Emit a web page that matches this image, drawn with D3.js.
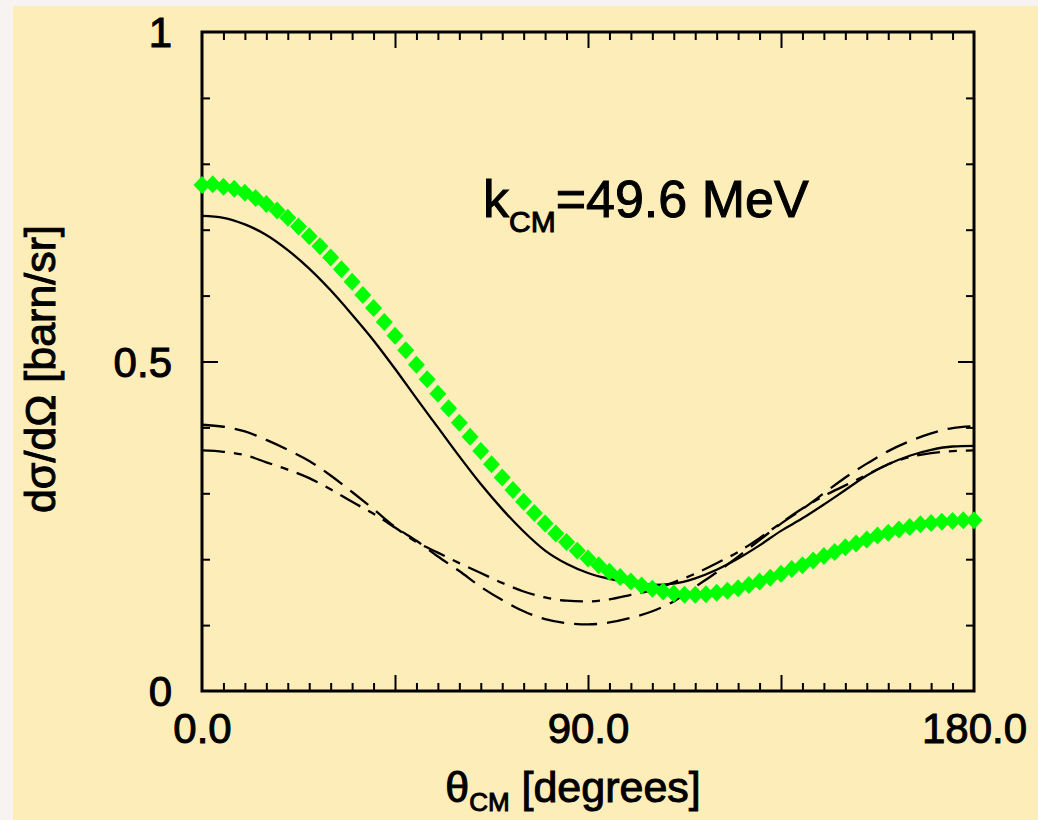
<!DOCTYPE html>
<html>
<head>
<meta charset="utf-8">
<script src="https://cdn.jsdelivr.net/npm/d3@7"></script>
<style>
    body { margin: 0; background: #f7f3f1; }
    svg { display: block; font-family: "Liberation Sans", Arial, sans-serif; }
    svg text { stroke: #000; stroke-width: 1px; }
</style>
</head>
<body>
<svg id="chart" width="1038" height="820"></svg>
<script>
// green diamonds (data)
const thetaGreen = [0, 2.5, 5, 7.5, 10, 12.5, 15, 17.5, 20, 22.5, 25, 27.5, 30, 32.5, 35, 37.5, 40, 42.5, 45, 47.5,
    50, 52.5, 55, 57.5, 60, 62.5, 65, 67.5, 70, 72.5, 75, 77.5, 80, 82.5, 85, 87.5, 90, 92.5, 95, 97.5,
    100, 102.5, 105, 107.5, 110, 112.5, 115, 117.5, 120, 122.5, 125, 127.5, 130, 132.5, 135, 137.5, 140, 142.5,
    145, 147.5, 150, 152.5, 155, 157.5, 160, 162.5, 165, 167.5, 170, 172.5, 175, 177.5, 180];
const sigmaGreen = [0.768, 0.769, 0.765, 0.762, 0.756, 0.748, 0.739, 0.729, 0.718, 0.705, 0.690, 0.675, 0.658, 0.640,
    0.621, 0.601, 0.581, 0.560, 0.539, 0.517, 0.495, 0.473, 0.451, 0.429, 0.407, 0.386, 0.364, 0.344, 0.324, 0.305,
    0.287, 0.270, 0.254, 0.239, 0.226, 0.213, 0.201, 0.191, 0.181, 0.173, 0.166, 0.160, 0.155, 0.151, 0.148, 0.146,
    0.146, 0.147, 0.149, 0.152, 0.156, 0.161, 0.166, 0.172, 0.178, 0.185, 0.191, 0.198, 0.205, 0.211, 0.218, 0.224,
    0.230, 0.236, 0.240, 0.245, 0.249, 0.253, 0.255, 0.257, 0.258, 0.259, 0.259];

// calculations
const thetaLine = [0, 5, 10, 15, 20, 25, 30, 35, 40, 45, 50, 55, 60, 65, 70, 75, 80, 85, 90,
    95, 100, 105, 110, 115, 120, 125, 130, 135, 140, 145, 150, 155, 160, 165, 170, 175, 180];
const sigmaSolid = [0.721, 0.718, 0.708, 0.692, 0.669, 0.641, 0.608, 0.571, 0.532, 0.489, 0.444, 0.400, 0.356,
    0.314, 0.276, 0.242, 0.213, 0.193, 0.179, 0.170, 0.164, 0.161, 0.163, 0.171, 0.184, 0.201, 0.221, 0.243,
    0.262, 0.283, 0.305, 0.327, 0.344, 0.357, 0.366, 0.371, 0.372];
const sigmaDashed = [0.404, 0.401, 0.394, 0.381, 0.366, 0.349, 0.327, 0.302, 0.276, 0.249, 0.228, 0.204, 0.182,
    0.158, 0.138, 0.121, 0.109, 0.103, 0.101, 0.104, 0.111, 0.121, 0.136, 0.158, 0.180, 0.204, 0.229, 0.254,
    0.276, 0.300, 0.324, 0.345, 0.364, 0.379, 0.391, 0.399, 0.402];
const sigmaDashDot = [0.365, 0.363, 0.358, 0.347, 0.336, 0.323, 0.306, 0.287, 0.269, 0.248, 0.226, 0.210, 0.194,
    0.179, 0.164, 0.151, 0.142, 0.137, 0.136, 0.139, 0.146, 0.153, 0.165, 0.178, 0.194, 0.211, 0.232, 0.255,
    0.277, 0.296, 0.312, 0.328, 0.344, 0.355, 0.361, 0.364, 0.365];

// ticks
const xMinorTicks = d3.range(5, 180, 5).filter(d => d % 45 !== 0);
const xMajorTicks = [45, 90, 135];
const xLabelTicks = [0, 90, 180];
const yMinorTicks = [0.1, 0.2, 0.3, 0.4, 0.6, 0.7, 0.8, 0.9];
const yMajorTicks = [0.5];
const yLabelTicks = [0, 0.5, 1];

const svg = d3.select("#chart");

svg.append("rect")
    .attr("x", 13).attr("y", 6)
    .attr("width", 1025).attr("height", 814)
    .attr("fill", "#fdedb9");

const x = d3.scaleLinear().domain([0, 180]).range([202, 974]);
const y = d3.scaleLinear().domain([0, 1]).range([691, 32]);

function tickAxis(axis, values, size) {
    return g => {
        g.call(axis.tickValues(values).tickSize(size).tickFormat(""));
        g.select(".domain").remove();
        g.selectAll(".tick line").attr("stroke", "#000").attr("stroke-width", 2);
    };
}

// tick marks, all pointing inward
svg.append("g").attr("transform", "translate(0,691)").call(tickAxis(d3.axisBottom(x), xMinorTicks, -8));
svg.append("g").attr("transform", "translate(0,691)").call(tickAxis(d3.axisBottom(x), xMajorTicks, -16));
svg.append("g").attr("transform", "translate(0,32)").call(tickAxis(d3.axisTop(x), xMinorTicks, -8));
svg.append("g").attr("transform", "translate(0,32)").call(tickAxis(d3.axisTop(x), xMajorTicks, -16));
svg.append("g").attr("transform", "translate(202,0)").call(tickAxis(d3.axisLeft(y), yMinorTicks, -8));
svg.append("g").attr("transform", "translate(202,0)").call(tickAxis(d3.axisLeft(y), yMajorTicks, -16));
svg.append("g").attr("transform", "translate(974,0)").call(tickAxis(d3.axisRight(y), yMinorTicks, -8));
svg.append("g").attr("transform", "translate(974,0)").call(tickAxis(d3.axisRight(y), yMajorTicks, -16));

// tick labels
svg.append("g")
    .attr("transform", "translate(0,691)")
    .call(d3.axisBottom(x).tickValues(xLabelTicks).tickSize(0).tickPadding(22).tickFormat(d3.format(".1f")))
    .call(g => g.select(".domain").remove())
    .call(g => g.selectAll("text").attr("font-size", 42).attr("fill", "#000")
        .attr("font-family", "Liberation Sans, Arial, sans-serif"));

svg.append("g")
    .attr("transform", "translate(202,0)")
    .call(d3.axisLeft(y).tickValues(yLabelTicks).tickSize(0).tickPadding(30).tickFormat(d3.format("~g")))
    .call(g => g.select(".domain").remove())
    .call(g => g.selectAll("text").attr("font-size", 42).attr("fill", "#000").attr("dy", "0.35em")
        .attr("font-family", "Liberation Sans, Arial, sans-serif"));

// frame
svg.append("rect")
    .attr("x", x(0)).attr("y", y(1))
    .attr("width", x(180) - x(0)).attr("height", y(0) - y(1))
    .attr("fill", "none").attr("stroke", "#000").attr("stroke-width", 3);

// curves
const line = d3.line()
    .x((d, i) => x(thetaLine[i]))
    .y(d => y(d))
    .curve(d3.curveMonotoneX);

svg.append("path").attr("d", line(sigmaDashed))
    .attr("fill", "none").attr("stroke", "#000").attr("stroke-width", 2.3)
    .attr("stroke-dasharray", "23,10");
svg.append("path").attr("d", line(sigmaDashDot))
    .attr("fill", "none").attr("stroke", "#000").attr("stroke-width", 2.3)
    .attr("stroke-dasharray", "23,9,8,9");
svg.append("path").attr("d", line(sigmaSolid))
    .attr("fill", "none").attr("stroke", "#000").attr("stroke-width", 2.3);

svg.append("g").selectAll("path")
    .data(sigmaGreen)
    .join("path")
    .attr("transform", (d, i) => `translate(${x(thetaGreen[i])},${y(d)})`)
    .attr("d", "M0,-9L8.5,0L0,9L-8.5,0Z")
    .attr("fill", "#00ff00");

// annotation
const note = svg.append("text")
    .attr("x", 483).attr("y", 217)
    .attr("font-size", 52).attr("fill", "#000");
note.append("tspan").text("k");
note.append("tspan").attr("font-size", 30).attr("dy", 15).text("CM");
note.append("tspan").attr("dy", -15).text("=49.6 MeV");

// axis titles
const xt = svg.append("text")
    .attr("x", 573).attr("y", 802)
    .attr("text-anchor", "middle")
    .attr("font-size", 43).attr("fill", "#000");
xt.append("tspan").text("θ");
xt.append("tspan").attr("font-size", 26).attr("dy", 9).text("CM");
xt.append("tspan").attr("dy", -9).text(" [degrees]");

svg.append("text")
    .attr("transform", "translate(55,369) rotate(-90)")
    .attr("text-anchor", "middle")
    .attr("font-size", 43).attr("fill", "#000")
    .text("dσ/dΩ [barn/sr]");
</script>
</body>
</html>
